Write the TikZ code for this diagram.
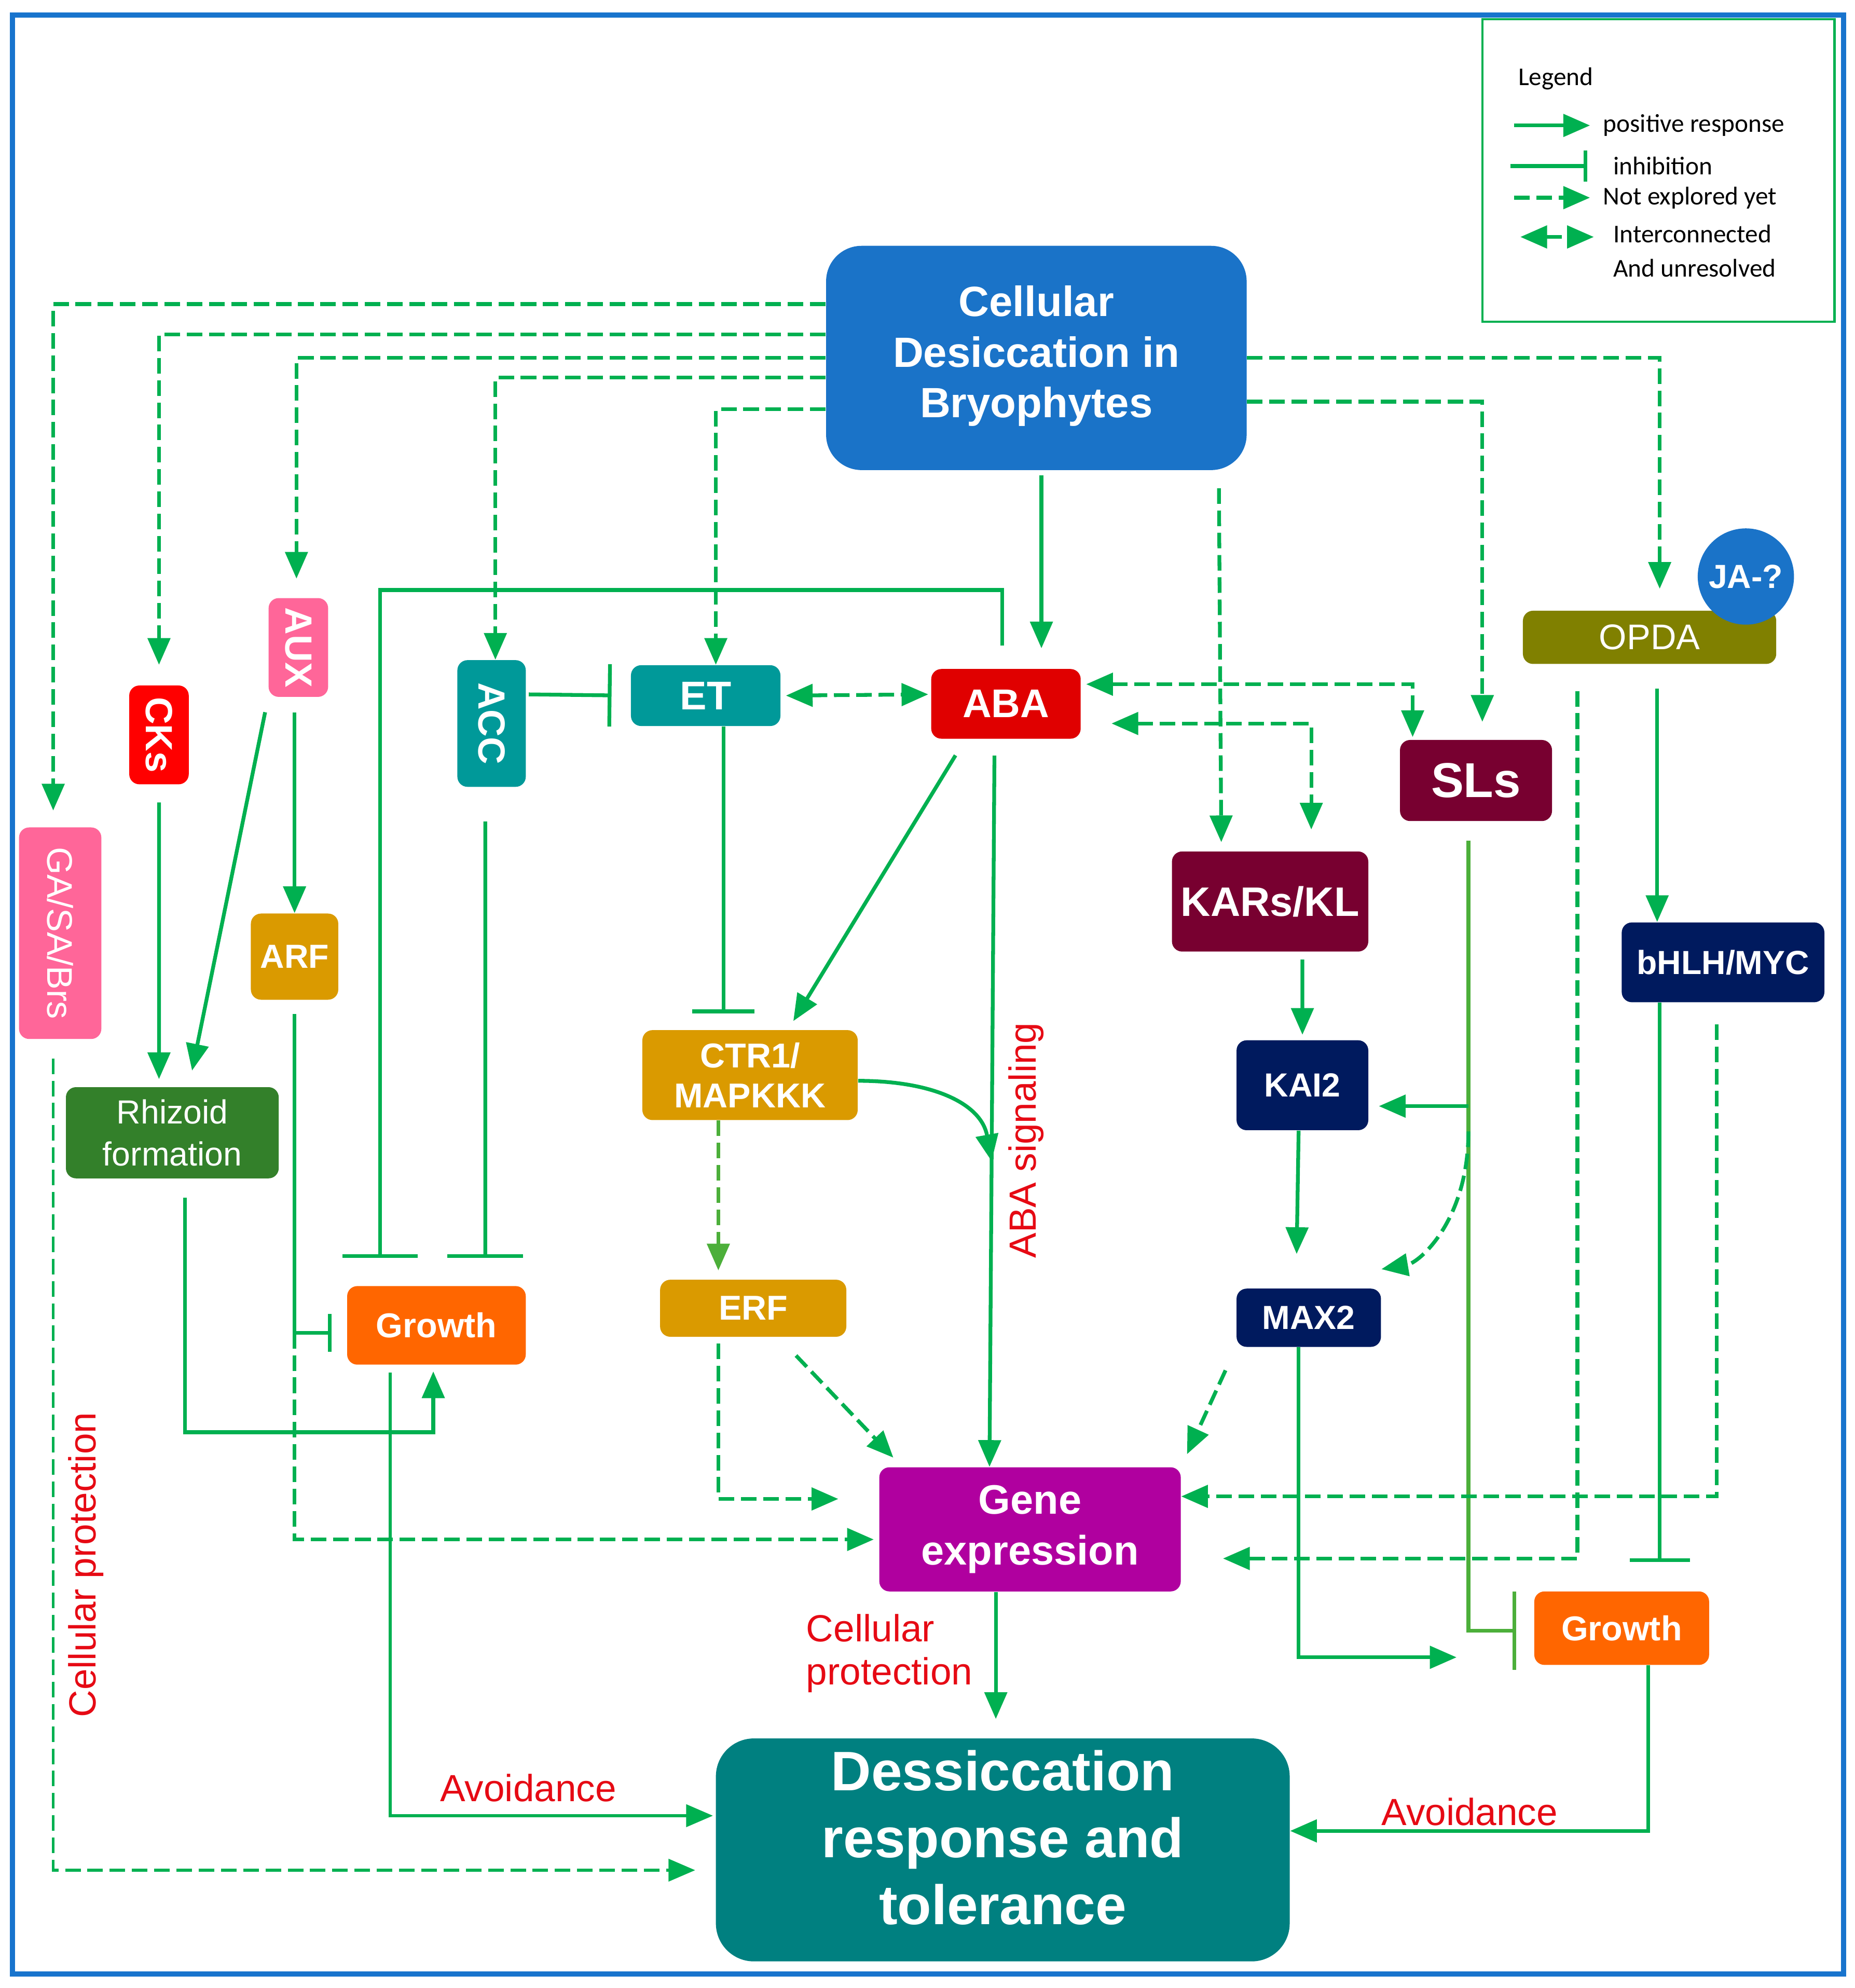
\documentclass[tikz,border=0pt]{standalone}
\usepackage{fontspec}
\setmainfont{Liberation Sans}
\newfontfamily\legfont{Carlito}
\usepackage{graphicx}
\usetikzlibrary{arrows.meta,positioning,calc}

\definecolor{framblue}{RGB}{24,116,205}
\definecolor{lgreen}{RGB}{0,176,80}
\definecolor{softgreen}{RGB}{76,175,58}
\definecolor{topblue}{RGB}{26,115,200}
\definecolor{etteal}{RGB}{0,153,153}
\definecolor{abared}{RGB}{224,0,0}
\definecolor{ckred}{RGB}{255,0,0}
\definecolor{auxpink}{RGB}{255,102,153}
\definecolor{slmaroon}{RGB}{120,0,48}
\definecolor{kainavy}{RGB}{0,26,94}
\definecolor{ctrgold}{RGB}{218,154,0}
\definecolor{rhizgreen}{RGB}{51,128,42}
\definecolor{groworange}{RGB}{255,102,0}
\definecolor{genemag}{RGB}{176,0,159}
\definecolor{desteal}{RGB}{0,128,128}
\definecolor{opdaolive}{RGB}{128,128,0}
\definecolor{labred}{RGB}{230,10,20}

\begin{document}
\begin{tikzpicture}[x=0.02cm, y=-0.02cm,
    actarrow/.style={draw=lgreen, line width=1.7pt, -{Triangle[length=12pt,width=10pt]}},
    inhbar/.style={draw=lgreen, line width=1.7pt, -{Bar[width=#1]}},
    inhbar/.default=34pt,
    notyet/.style={actarrow, dash pattern=on 7pt off 3pt},
    twoway/.style={draw=lgreen, line width=1.7pt, dash pattern=on 7pt off 3pt,
        {Triangle[length=12pt,width=10pt]}-{Triangle[length=12pt,width=10pt]}},
    hbox/.style={rounded corners=0.16cm, inner sep=0pt, text=white, align=center},
    lab/.style={text=labred, font=\fontsize{17}{20}\selectfont, inner sep=0pt},
    legtxt/.style={font=\legfont\fontsize{11.5}{15.3}\selectfont, inner sep=0pt, anchor=west}]
    \useasboundingbox (0,0) rectangle (1464,1569);
    \fill[white] (0,0) rectangle (1464,1569);
    \draw[framblue, line width=2.3pt] (10,12) rectangle (1455,1558);

    % legend
    \node[draw=lgreen, line width=1pt, minimum width=5.56cm, minimum height=4.78cm] (legend) at (1309,134.5) {};
    \node[legtxt] (legtitle) at (1198,62) {Legend};
    \node[legtxt] (legpos) at (1265,99) {positive response};
    \node[legtxt] (leginh) at (1273,131) {inhibition};
    \node[legtxt] (legnot) at (1265,156) {Not explored yet};
    \node[legtxt, align=left] (legint) at (1273,198) {Interconnected\\And unresolved};
    \draw[actarrow] ([xshift=-1.4cm]legpos.west) -- ([xshift=-0.2cm]legpos.west);
    \draw[inhbar=14pt] ([xshift=-1.62cm]leginh.west) -- ([xshift=-0.4cm]leginh.west);
    \draw[notyet] ([xshift=-1.4cm]legnot.west) -- ([xshift=-0.2cm]legnot.west);
    \draw[twoway] ($(legint.west)+(-73,-11)$) -- ($(legint.west)+(-15,-11)$);

    % boxes
    \node[hbox, rounded corners=0.56cm, fill=topblue, minimum width=6.64cm, minimum height=3.54cm, text depth=0.2cm,
        font=\bfseries\fontsize{19}{22.7}\selectfont] (desic) at (818,282.5) {Cellular\\Desiccation in\\Bryophytes};
    \node[hbox, fill=abared, minimum width=2.36cm, minimum height=1.1cm, font=\bfseries\fontsize{18}{21}\selectfont] (aba) at (794,555.5) {ABA};
    \node[hbox, fill=etteal, minimum width=2.36cm, minimum height=0.96cm, font=\bfseries\fontsize{18}{21}\selectfont] (et) at (557,549) {ET};
    \node[hbox, fill=etteal, minimum width=1.08cm, minimum height=2cm, font=\bfseries\fontsize{17}{20}\selectfont] (acc) at (388,571) {\rotatebox{-90}{ACC}};
    \node[hbox, fill=auxpink, minimum width=0.94cm, minimum height=1.56cm, font=\bfseries\fontsize{17}{20}\selectfont] (aux) at (235.5,511) {\rotatebox{-90}{AUX}};
    \node[hbox, fill=ckred, minimum width=0.94cm, minimum height=1.56cm, font=\bfseries\fontsize{17}{20}\selectfont] (cks) at (125.5,580) {\rotatebox{-90}{CKs}};
    \node[hbox, fill=auxpink, minimum width=1.3cm, minimum height=3.34cm, font=\fontsize{16}{19}\selectfont] (gasa) at (47.5,736.5) {\rotatebox{-90}{GA/SA/Brs}};
    \node[hbox, fill=slmaroon, minimum width=2.4cm, minimum height=1.28cm, font=\bfseries\fontsize{22}{26}\selectfont] (sls) at (1165,616) {SLs};
    \node[hbox, fill=slmaroon, minimum width=3.1cm, minimum height=1.58cm, font=\bfseries\fontsize{18.5}{22}\selectfont] (kars) at (1002.5,711.5) {KARs/KL};
    \node[hbox, fill=kainavy, minimum width=2.08cm, minimum height=1.42cm, font=\bfseries\fontsize{15}{18}\selectfont] (kai) at (1028,856.5) {KAI2};
    \node[hbox, fill=kainavy, minimum width=2.28cm, minimum height=0.92cm, font=\bfseries\fontsize{15}{18}\selectfont] (max) at (1033,1040) {MAX2};
    \node[hbox, fill=kainavy, minimum width=3.2cm, minimum height=1.26cm, font=\bfseries\fontsize{15}{18}\selectfont] (bhlh) at (1360,759.5) {bHLH/MYC};
    \node[hbox, fill=opdaolive, minimum width=4cm, minimum height=0.84cm, font=\fontsize{16}{19}\selectfont] (opda) at (1302,503) {OPDA};
    \node[circle, fill=topblue, text=white, minimum size=1.52cm, inner sep=0pt, font=\bfseries\fontsize{15}{18}\selectfont] (ja) at (1378,455) {JA-?};
    \node[hbox, fill=ctrgold, minimum width=1.38cm, minimum height=1.36cm, font=\bfseries\fontsize{15}{18}\selectfont] (arf) at (232.5,755) {ARF};
    \node[hbox, fill=rhizgreen, minimum width=3.36cm, minimum height=1.44cm, font=\fontsize{15}{18.7}\selectfont] (rhiz) at (136,894) {Rhizoid\\formation};
    \node[hbox, fill=ctrgold, minimum width=3.4cm, minimum height=1.42cm, font=\bfseries\fontsize{15.5}{18}\selectfont] (ctr) at (592,848.5) {CTR1/\\MAPKKK};
    \node[hbox, fill=ctrgold, minimum width=2.94cm, minimum height=0.9cm, font=\bfseries\fontsize{15.5}{18}\selectfont] (erf) at (594.5,1032.5) {ERF};
    \node[hbox, fill=groworange, minimum width=2.82cm, minimum height=1.24cm, font=\bfseries\fontsize{15.5}{18}\selectfont] (growl) at (344.5,1046) {Growth};
    \node[hbox, fill=genemag, minimum width=4.76cm, minimum height=1.96cm, font=\bfseries\fontsize{18.5}{23}\selectfont] (gene) at (813,1207) {Gene\\expression};
    \node[hbox, fill=groworange, minimum width=2.76cm, minimum height=1.16cm, font=\bfseries\fontsize{15.5}{18}\selectfont] (growr) at (1280,1285) {Growth};
    \node[hbox, rounded corners=0.6cm, fill=desteal, minimum width=9.06cm, minimum height=3.52cm, text depth=0.4cm,
        font=\bfseries\fontsize{25}{30}\selectfont] (dess) at (791.5,1460) {Dessiccation\\response and\\tolerance};

    % red labels
    \node[lab, rotate=90] (abasig) at (810,900) {ABA signaling};
    \node[lab, rotate=90] (cellprot) at (68,1235) {Cellular protection};
    \node[lab, align=left, font=\fontsize{17}{19.3}\selectfont] (cellprot2) at (702,1305) {Cellular\\protection};
    \node[lab] (avoidl) at (417,1411) {Avoidance};
    \node[lab] (avoidr) at (1160,1430) {Avoidance};

    % from the desiccation box
    \draw[notyet, shorten >=0.26cm] ($(desic.west)+(0,-42.5)$) -| ($(gasa.north)+(-5.5,0)$);
    \draw[notyet, shorten >=0.32cm] ($(desic.west)+(0,-18.5)$) -| (cks.north);
    \draw[notyet, shorten >=0.3cm] (desic.west) -| ($(aux.north)+(-1.5,0)$);
    \draw[notyet] ($(desic.west)+(0,15.5)$) -| ($(acc.north)+(3,0)$);
    \draw[notyet] ($(desic.west)+(0,40.5)$) -| ($(et.north)+(8,0)$);
    \draw[notyet, shorten >=0.34cm] (desic.east) -| ($(opda.north)+(8,0)$);
    \draw[notyet, shorten >=0.28cm] ($(desic.east)+(0,34.5)$) -| ($(sls.north)+(5,0)$);
    \draw[notyet, shorten <=0.28cm, shorten >=0.14cm] ($(desic.south)+(144,0)$) -- ($(kars.north)+(-38.5,0)$);
    \draw[actarrow, shorten <=0.08cm, shorten >=0.32cm] ($(desic.south)+(4,0)$) -- ($(aba.north)+(28,0)$);

    % ABA, ET, ACC
    \draw[inhbar, shorten <=0.36cm, shorten >=0.44cm] ($(aba.north)+(-3,0)$) -- ++(0,-62) -| ($(growl.north)+(-44.5,0)$);
    \draw[inhbar, shorten <=0.54cm, shorten >=0.44cm] ($(acc.south)+(-5,0)$) -- ($(growl.north)+(38.5,0)$);
    \draw[inhbar=28pt, shorten <=0.04cm, shorten >=0.3cm] ($(acc.east)+(0,-23)$) -- (et.west);
    \draw[twoway, shorten <=0.08cm, shorten >=0.04cm] (et.east) -- ($(aba.west)+(0,-7.5)$);
    \draw[inhbar=28pt, shorten >=0.26cm] ($(et.south)+(14,0)$) -- ($(ctr.north)+(-21,0)$);
    \draw[actarrow, shorten <=0.3cm, shorten >=0.16cm] ($(aba.south)+(-32,0)$) -- ($(ctr.north)+(30,0)$);
    \draw[actarrow, shorten <=0.26cm] ($(aba.south)+(-9,0)$) -- ($(gene.north)+(-32,0)$) coordinate[pos=0.58] (abamid);
    \draw[actarrow] ($(ctr.east)+(0,4.5)$) .. controls +(60,0) and +(-8,-45) .. (abamid);
    \draw[notyet, draw=softgreen, shorten >=0.14cm] ($(ctr.south)+(-25,0)$) -- ($(erf.north)+(-27.5,0)$);
    \draw[notyet, shorten <=0.1cm, shorten >=0.64cm] ($(erf.south)+(-27.5,0)$) |- ($(gene.west)+(0,-24)$);
    \draw[notyet, shorten <=0.4cm, shorten >=0.2cm] ($(erf.south)+(20,0)$) -- ($(gene.north)+(-101,0)$);
    \draw[twoway, shorten <=0.08cm, shorten >=0.04cm] ($(aba.east)+(0,-15.5)$) -| ($(sls.north)+(-50,0)$);
    \draw[twoway, shorten <=0.48cm, shorten >=0.34cm] ($(aba.east)+(0,15.5)$) -| ($(kars.north)+(32.5,0)$);

    % karrikin and strigolactone branch
    \draw[actarrow, shorten <=0.12cm, shorten >=0.08cm] ($(kars.south)+(25.5,0)$) -- (kai.north);
    \draw[actarrow, shorten >=0.54cm] ($(kai.south)+(-3,0)$) -- ($(max.north)+(-10,0)$);
    \draw[notyet, shorten <=0.4cm, shorten >=0.22cm] (max.south west) -- (gene.north east);
    \draw[inhbar=35pt, draw=softgreen, shorten <=0.3cm, shorten >=0.28cm] ($(sls.south)+(-6,0)$) |- ($(growr.west)+(0,2)$);
    \coordinate (kaiin) at ($(kai.east)+(0,16.5)$);
    \coordinate (slsj) at ($(sls.south |- kaiin)+(-6,0)$);
    \draw[actarrow, shorten >=0.16cm] (slsj) -- (kaiin);
    \draw[notyet] ($(slsj)+(0,20)$) .. controls +(0,70) and +(30,-5) .. ($(max.north east)+(0,-15)$);
    \draw[actarrow, shorten >=1.22cm] ($(max.south)+(-8,0)$) |- ($(growr.west)+(0,23)$);

    % OPDA branch
    \draw[actarrow, shorten <=0.38cm] ($(opda.south)+(6,0)$) -- ($(bhlh.north)+(-52,0)$);
    \draw[notyet, shorten <=0.42cm, shorten >=0.66cm] ($(opda.south)+(-57,0)$) |- ($(gene.east)+(0,23)$);
    \draw[inhbar=27pt, shorten >=0.46cm] ($(bhlh.south)+(-50,0)$) -- ($(growr.north)+(30,0)$);
    \draw[notyet, shorten <=0.34cm] ($(bhlh.south)+(-5,0)$) |- ($(gene.east)+(0,-26)$);

    % auxin and cytokinin branch
    \draw[actarrow, shorten <=0.24cm, shorten >=0.26cm] (aux.south west) -- ($(rhiz.north)+(13,0)$);
    \draw[actarrow, shorten <=0.24cm] ($(aux.south)+(-3,0)$) -- (arf.north);
    \draw[actarrow, shorten <=0.28cm, shorten >=0.12cm] (cks.south) -- ($(rhiz.north)+(-10.5,0)$);
    \draw[inhbar=17pt, shorten <=0.22cm, shorten >=0.24cm] (arf.south) |- ($(growl.west)+(0,6)$);
    \coordinate (arfj) at ($(arf.south |- growl.west)+(0,6)$);
    \draw[notyet, shorten >=0.08cm] (arfj) |- ($(gene.west)+(0,8)$);
    \draw[actarrow, shorten <=0.3cm, shorten >=0.1cm] ($(rhiz.south)+(10,0)$) -- ++(0,200) -| ($(growl.south)+(-2.5,0)$);

    % to the response box
    \draw[actarrow, line width=1.2pt, shorten <=0.12cm, shorten >=0.04cm] ($(growl.south)+(-36.5,0)$) |- ($(dess.west)+(0,-27)$);
    \draw[notyet, line width=1.2pt, shorten <=0.3cm, shorten >=0.32cm] ($(gasa.south)+(-5.5,0)$) |- ($(dess.west)+(0,16)$);
    \draw[actarrow, shorten >=0.3cm] ($(gene.south)+(-27,0)$) -- ($(dess.north)+(-5.5,0)$);
    \draw[actarrow] ($(growr.south)+(21,0)$) |- ($(dess.east)+(0,-15)$);
\end{tikzpicture}
\end{document}
